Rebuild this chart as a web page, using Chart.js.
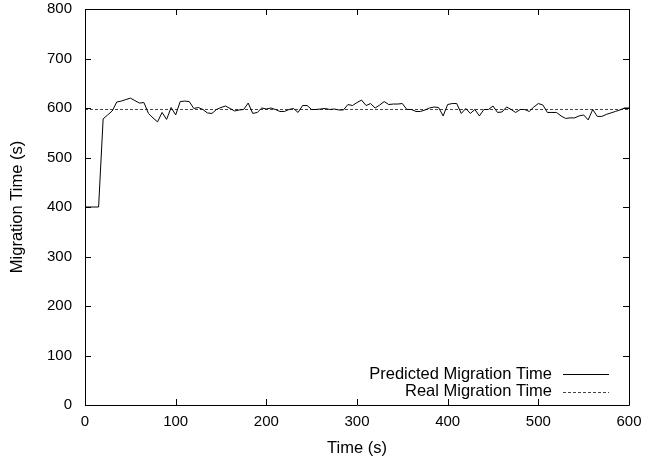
<!DOCTYPE html>
<html>
<head>
<meta charset="utf-8">
<script src="https://cdn.jsdelivr.net/npm/chart.js@4.4.0/dist/chart.umd.min.js"></script>
<style>
  html, body { margin: 0; padding: 0; background: #fff; }
  #wrap { width: 647px; height: 462px; }
</style>
</head>
<body>
<div id="wrap"><canvas id="grafico" width="647" height="462"></canvas></div>
<script>
// tempos (s) - amostras a cada 5 s
const tempos = [
  0, 5, 10, 15, 20, 25, 30, 35, 40, 45, 50, 55, 60, 65, 70, 75, 80, 85, 90, 95,
  100, 105, 110, 115, 120, 125, 130, 135, 140, 145, 150, 155, 160, 165, 170, 175, 180, 185, 190, 195,
  200, 205, 210, 215, 220, 225, 230, 235, 240, 245, 250, 255, 260, 265, 270, 275, 280, 285, 290, 295,
  300, 305, 310, 315, 320, 325, 330, 335, 340, 345, 350, 355, 360, 365, 370, 375, 380, 385, 390, 395,
  400, 405, 410, 415, 420, 425, 430, 435, 440, 445, 450, 455, 460, 465, 470, 475, 480, 485, 490, 495,
  500, 505, 510, 515, 520, 525, 530, 535, 540, 545, 550, 555, 560, 565, 570, 575, 580, 585, 590, 595,
  600
];
const previsto = [
  400, 400, 400, 400, 578, 586, 594, 612, 614, 617, 620, 615, 610, 611, 589, 580, 572, 591, 577, 601,
  586, 613, 614, 613, 599, 601, 597, 590, 589, 597, 601, 604, 599, 594, 596, 597, 610, 589, 591, 600,
  598, 600, 597, 593, 593, 597, 599, 591, 605, 605, 597, 597, 598, 599, 597, 598, 596, 596, 607, 605,
  611, 616, 605, 609, 600, 606, 613, 607, 608, 608, 609, 597, 597, 593, 593, 596, 600, 602, 601, 584,
  607, 609, 609, 589, 599, 589, 597, 584, 597, 597, 604, 591, 592, 602, 597, 591, 597, 597, 593, 602,
  609, 606, 591, 591, 591, 584, 579, 580, 580, 584, 586, 576, 597, 583, 583, 587, 590, 593, 596, 600,
  600
];
const temposReal = [0, 600];
const real = [597, 597];

const ticksX = [0, 100, 200, 300, 400, 500, 600];
const ticksY = [0, 100, 200, 300, 400, 500, 600, 700, 800];

const fonte = "'Liberation Sans', Arial, sans-serif";

// ticks para dentro nos quatro lados + legenda dentro do grafico (estilo gnuplot)
const estiloGnuplot = {
  id: 'estiloGnuplot',
  afterDraw(chart) {
    const ctx = chart.ctx;
    const a = chart.chartArea;
    const sx = chart.scales.x, sy = chart.scales.y;
    ctx.save();
    ctx.strokeStyle = '#000';
    ctx.lineWidth = 1;
    ctx.beginPath();
    ctx.rect(Math.round(a.left) + 0.5, Math.round(a.top) + 0.5, Math.round(a.right - a.left), Math.round(a.bottom - a.top));
    ctx.stroke();
    ctx.beginPath();
    ticksX.forEach(v => {
      const x = Math.round(sx.getPixelForValue(v)) + 0.5;
      ctx.moveTo(x, a.bottom); ctx.lineTo(x, a.bottom - 6);
      ctx.moveTo(x, a.top); ctx.lineTo(x, a.top + 6);
    });
    ticksY.forEach(v => {
      const y = Math.round(sy.getPixelForValue(v)) + 0.5;
      ctx.moveTo(a.left, y); ctx.lineTo(a.left + 6, y);
      ctx.moveTo(a.right, y); ctx.lineTo(a.right - 6, y);
    });
    ctx.stroke();

    // legenda
    ctx.font = '16.5px ' + fonte;
    ctx.textAlign = 'right';
    ctx.textBaseline = 'middle';
    ctx.fillStyle = '#000';
    const xTexto = a.right - 77, xIni = a.right - 66, xFim = a.right - 20;
    chart.data.datasets.forEach((ds, i) => {
      const y = a.bottom - 31 + i * 17.5;
      ctx.fillText(ds.label, xTexto, y);
      ctx.beginPath();
      ctx.strokeStyle = ds.borderColor;
      ctx.setLineDash(ds.borderDash || []);
      ctx.moveTo(xIni, Math.round(y) + 0.5);
      ctx.lineTo(xFim, Math.round(y) + 0.5);
      ctx.stroke();
    });
    ctx.restore();
  }
};

new Chart(document.getElementById('grafico'), {
  type: 'line',
  data: {
    datasets: [
      {
        label: 'Predicted Migration Time',
        data: tempos.map((t, i) => ({ x: t, y: previsto[i] })),
        borderColor: '#000',
        borderWidth: 1,
        pointRadius: 0,
        tension: 0
      },
      {
        label: 'Real Migration Time',
        data: temposReal.map((t, i) => ({ x: t, y: real[i] })),
        borderColor: '#444',
        borderWidth: 1,
        borderDash: [3, 2],
        pointRadius: 0
      }
    ]
  },
  options: {
    responsive: false,
    animation: false,
    layout: { padding: { left: 0, top: 9, right: 18, bottom: 0 } },
    plugins: { legend: { display: false }, tooltip: { enabled: false } },
    scales: {
      x: {
        type: 'linear',
        min: 0, max: 600,
        afterBuildTicks: s => { s.ticks = ticksX.map(v => ({ value: v })); },
        afterFit: s => { s.height = 57; },
        grid: { display: false },
        border: { display: false },
        ticks: { color: '#000', font: { family: fonte, size: 15 }, padding: 0, maxRotation: 0 },
        title: { display: true, text: 'Time (s)', color: '#000', font: { family: fonte, size: 16.5 }, padding: { top: 2 } }
      },
      y: {
        min: 0, max: 800,
        afterBuildTicks: s => { s.ticks = ticksY.map(v => ({ value: v })); },
        afterFit: s => { s.width = 85; s.paddingTop = 0; s.paddingBottom = 0; },
        grid: { display: false },
        border: { display: false },
        ticks: { color: '#000', font: { family: fonte, size: 15 }, padding: 5 },
        title: { display: true, text: 'Migration Time (s)', color: '#000', font: { family: fonte, size: 16.5 }, padding: { bottom: 0, top: 8 } }
      }
    }
  },
  plugins: [estiloGnuplot]
});
</script>
</body>
</html>
